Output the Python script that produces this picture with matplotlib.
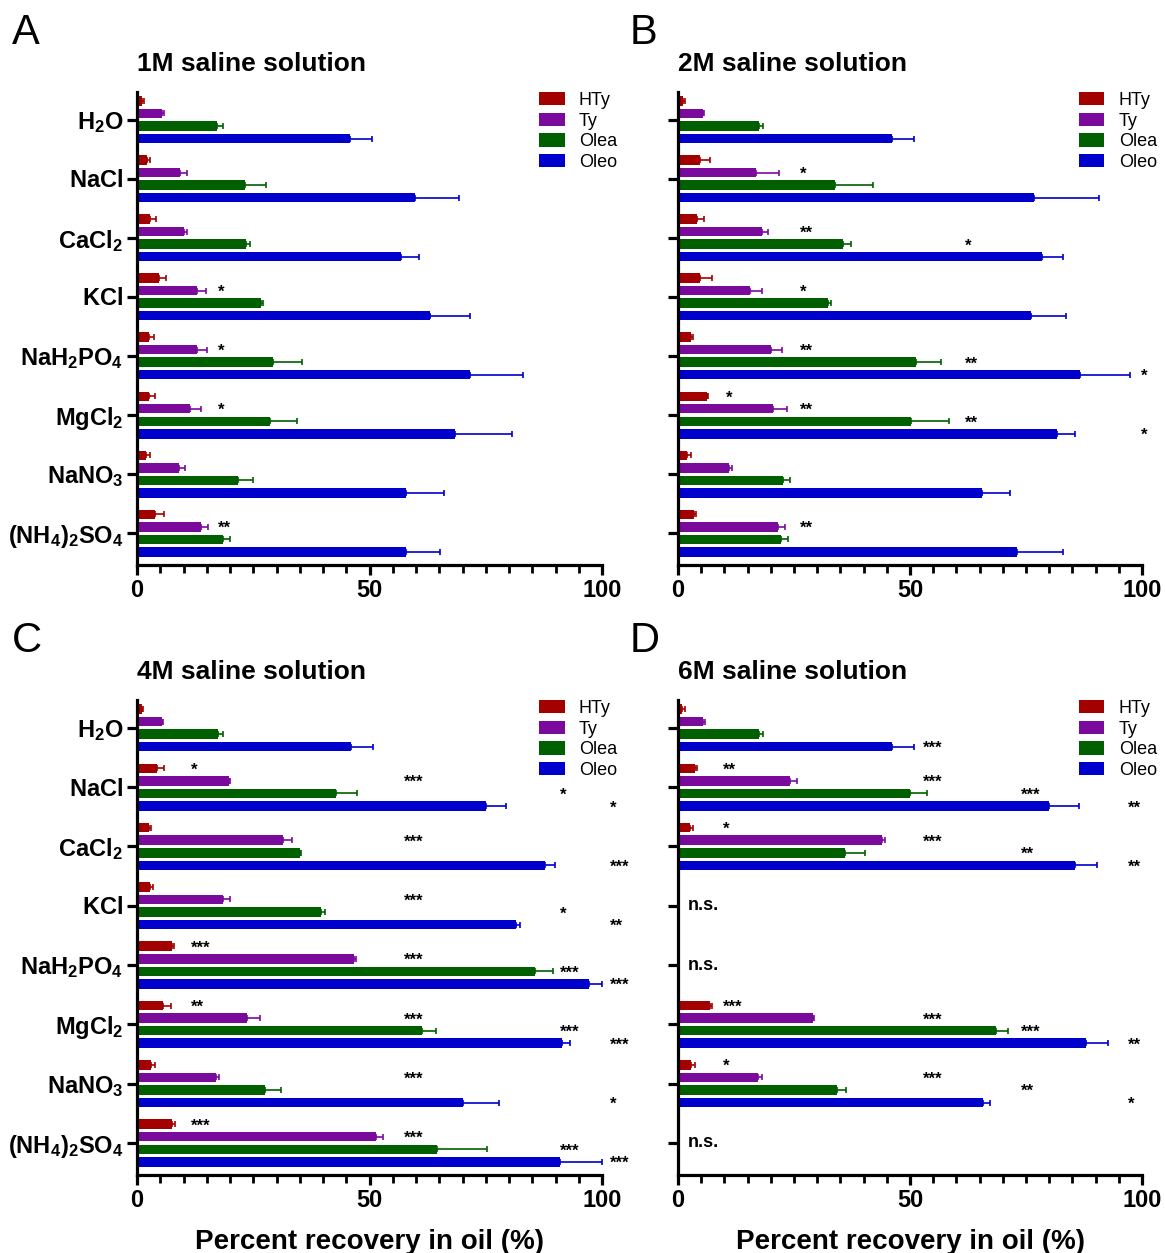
# Recuperacion de fenoles en aceite con distintas soluciones salinas
# cuatro paneles de barras horizontales

import numpy as np
import matplotlib
matplotlib.use("Agg")
import matplotlib.pyplot as plt

# fuentes tipo Arial y subindices en negrita
plt.rcParams["font.family"] = ["Liberation Sans", "DejaVu Sans"]
plt.rcParams["mathtext.fontset"] = "custom"
plt.rcParams["mathtext.bf"] = "Liberation Sans:bold"
plt.rcParams["mathtext.rm"] = "Liberation Sans:bold"

# categorias y series
sales = [
    r"$\mathbf{H_2O}$", r"$\mathbf{NaCl}$", r"$\mathbf{CaCl_2}$", r"$\mathbf{KCl}$",
    r"$\mathbf{NaH_2PO_4}$", r"$\mathbf{MgCl_2}$", r"$\mathbf{NaNO_3}$",
    r"$\mathbf{(NH_4)_2SO_4}$",
]
series = ["HTy", "Ty", "Olea", "Oleo"]
colores = ["#a30000", "#7a0a9c", "#006000", "#0000cc"]
titulos = ["1M saline solution", "2M saline solution",
           "4M saline solution", "6M saline solution"]
letras = ["A", "B", "C", "D"]
ticks_x = [0, 50, 100]

# 1M: filas = HTy, Ty, Olea, Oleo
m1_media = [
    [1.0, 2.1, 2.8, 4.7, 2.6, 2.5, 2.0, 3.9],
    [5.4, 9.2, 10.2, 12.8, 12.8, 11.4, 9.1, 13.8],
    [17.3, 23.2, 23.5, 26.6, 29.3, 28.7, 21.7, 18.5],
    [45.8, 59.7, 56.8, 63.0, 71.6, 68.3, 57.9, 57.9],
]
m1_error = [
    [0.4, 0.6, 1.2, 1.5, 1.1, 1.4, 0.7, 1.9],
    [0.3, 1.5, 0.6, 2.0, 2.3, 2.3, 1.3, 1.5],
    [1.2, 4.6, 0.8, 0.5, 6.2, 5.8, 3.2, 1.5],
    [4.8, 9.5, 3.8, 8.7, 11.5, 12.3, 8.2, 7.3],
]
m1_sig = [
    ["", "", "", "", "", "", "", ""],
    ["", "", "", "*", "*", "*", "", "**"],
    ["", "", "", "", "", "", "", ""],
    ["", "", "", "", "", "", "", ""],
]

# 2M
m2_media = [
    [1.1, 4.7, 4.1, 4.7, 2.9, 6.2, 1.9, 3.5],
    [5.4, 16.9, 18.2, 15.5, 20.0, 20.4, 11.0, 21.6],
    [17.4, 33.8, 35.6, 32.3, 51.4, 50.2, 22.7, 22.2],
    [46.1, 76.8, 78.5, 76.1, 86.6, 81.6, 65.6, 73.1],
]
m2_error = [
    [0.4, 2.1, 1.4, 2.6, 0.3, 0.3, 0.8, 0.3],
    [0.3, 4.9, 1.2, 2.7, 2.4, 3.0, 0.6, 1.4],
    [1.0, 8.3, 1.7, 0.7, 5.3, 8.1, 1.5, 1.5],
    [4.7, 13.9, 4.4, 7.6, 10.8, 4.0, 5.9, 9.9],
]
m2_sig = [
    ["", "", "", "", "", "*", "", ""],
    ["", "*", "**", "*", "**", "**", "", "**"],
    ["", "", "*", "", "**", "**", "", ""],
    ["", "", "", "", "*", "*", "", ""],
]

# 4M
m4_media = [
    [1.1, 4.3, 2.6, 2.9, 7.6, 5.6, 3.0, 7.6],
    [5.4, 19.8, 31.5, 18.4, 46.7, 23.7, 16.9, 51.5],
    [17.4, 42.9, 35.1, 39.5, 85.6, 61.3, 27.5, 64.5],
    [46.0, 75.1, 87.8, 81.6, 97.2, 91.3, 70.2, 90.9],
]
m4_error = [
    [0.2, 1.4, 0.5, 0.6, 0.4, 1.7, 0.8, 0.5],
    [0.2, 0.2, 1.9, 1.5, 0.4, 2.8, 0.7, 1.5],
    [1.0, 4.4, 0.2, 0.9, 3.9, 3.0, 3.5, 10.8],
    [4.8, 4.3, 2.0, 0.8, 2.8, 1.9, 7.6, 9.1],
]
m4_sig = [
    ["", "*", "", "", "***", "**", "", "***"],
    ["", "***", "***", "***", "***", "***", "***", "***"],
    ["", "*", "", "*", "***", "***", "", "***"],
    ["", "*", "***", "**", "***", "***", "*", "***"],
]

# 6M (KCl, NaH2PO4 y (NH4)2SO4 sin datos: n.s.)
nan = np.nan
m6_media = [
    [0.9, 3.6, 2.6, nan, nan, 6.8, 2.7, nan],
    [5.4, 24.1, 44.0, nan, nan, 29.2, 17.2, nan],
    [17.4, 50.1, 36.0, nan, nan, 68.5, 34.2, nan],
    [46.1, 80.0, 85.6, nan, nan, 88.0, 65.8, nan],
]
m6_error = [
    [0.6, 0.6, 0.7, nan, nan, 0.6, 0.9, nan],
    [0.4, 1.6, 0.6, nan, nan, 0.1, 1.0, nan],
    [1.0, 3.5, 4.2, nan, nan, 2.7, 2.1, nan],
    [4.7, 6.5, 4.8, nan, nan, 4.6, 1.5, nan],
]
m6_sig = [
    ["", "**", "*", "", "", "***", "*", ""],
    ["", "***", "***", "", "", "***", "***", ""],
    ["", "***", "**", "", "", "***", "**", ""],
    ["***", "**", "**", "", "", "**", "*", ""],
]
m6_ns = [3, 4, 7]

medias = [m1_media, m2_media, m4_media, m6_media]
errores = [m1_error, m2_error, m4_error, m6_error]
sigs = [m1_sig, m2_sig, m4_sig, m6_sig]

# columnas de asteriscos (eje x) por panel y serie
col_sig = [
    [10.0, 17.4, 60.0, 100.0],
    [10.3, 26.2, 61.8, 99.8],
    [11.7, 57.4, 90.9, 101.8],
    [9.6, 52.7, 73.9, 97.0],
]
# en 6M el asterisco de Oleo en H2O esta en la columna de Ty
col_fija = {(3, 3, 0): 52.7}

# figura
W, H = 1165, 1253
fig = plt.figure(figsize=(W / 100, H / 100), dpi=100)

# cajas de los ejes en pixeles (izq, arriba, der, abajo)
cajas = [(137, 92, 602, 565), (678, 92, 1142, 565),
         (137, 700, 602, 1175), (678, 700, 1142, 1175)]
paso = 0.212
alto = 0.16

for k in range(4):
    x0, y0, x1, y1 = cajas[k]
    ax = fig.add_axes([x0 / W, 1 - y1 / H, (x1 - x0) / W, (y1 - y0) / H])
    y = np.arange(len(sales))

    for s in range(4):
        pos = y + (s - 1.5) * paso
        med = np.array(medias[k][s])
        err = np.array(errores[k][s])
        ax.barh(pos, med, height=alto, color=colores[s], label=series[s],
                edgecolor="none")
        ax.errorbar(med, pos, xerr=[np.zeros(len(med)), err], fmt="none",
                    ecolor=colores[s], elinewidth=1.2, capsize=2.2,
                    capthick=1.2)

        # asteriscos de significancia
        for c in range(len(sales)):
            txt = sigs[k][s][c]
            if txt == "":
                continue
            xs = col_fija.get((k, s, c), col_sig[k][s])
            ax.text(xs, pos[c] + 0.03, txt, ha="left", va="center",
                    fontsize=12, fontweight="bold", clip_on=False)

    # filas sin diferencia
    if k == 3:
        for c in m6_ns:
            ax.text(2, c, "n.s.", ha="left", va="center", fontsize=13,
                    fontweight="bold")

    ax.set_xlim(0, 100)
    ax.set_ylim(7.54, -0.47)
    ax.set_yticks(y)
    if k in (0, 2):
        ax.set_yticklabels(sales, fontsize=17)
    else:
        ax.set_yticklabels([])
    ax.set_xticks(ticks_x)
    ax.set_xticks(np.arange(0, 101, 5), minor=True)
    ax.set_xticklabels([str(t) for t in ticks_x], fontsize=17,
                       fontweight="bold")

    for lado in ["top", "right"]:
        ax.spines[lado].set_visible(False)
    for lado in ["left", "bottom"]:
        ax.spines[lado].set_linewidth(2.3)
    ax.tick_params(axis="both", which="major", length=7, width=2.3, pad=3)
    ax.tick_params(axis="x", which="minor", length=5.5, width=2.0)

    if k >= 2:
        ax.set_xlabel("Percent recovery in oil (%)", fontsize=20,
                      fontweight="bold", labelpad=12)

    ax.legend(loc="upper right", bbox_to_anchor=(1.048, 1.015),
              frameon=False, fontsize=13, handlelength=1.4,
              handleheight=0.75, labelspacing=0.2, handletextpad=0.8,
              borderaxespad=0)

    # titulo y letra del panel
    fig.text(x0 / W, 1 - (y0 - 28) / H, titulos[k], fontsize=19,
             fontweight="bold", ha="left", va="center")
    fig.text((x0 - 125 if k % 2 == 0 else x0 - 48) / W, 1 - (y0 - 59) / H,
             letras[k], fontsize=30, ha="left", va="center")

fig.savefig("out.png", dpi=100)
